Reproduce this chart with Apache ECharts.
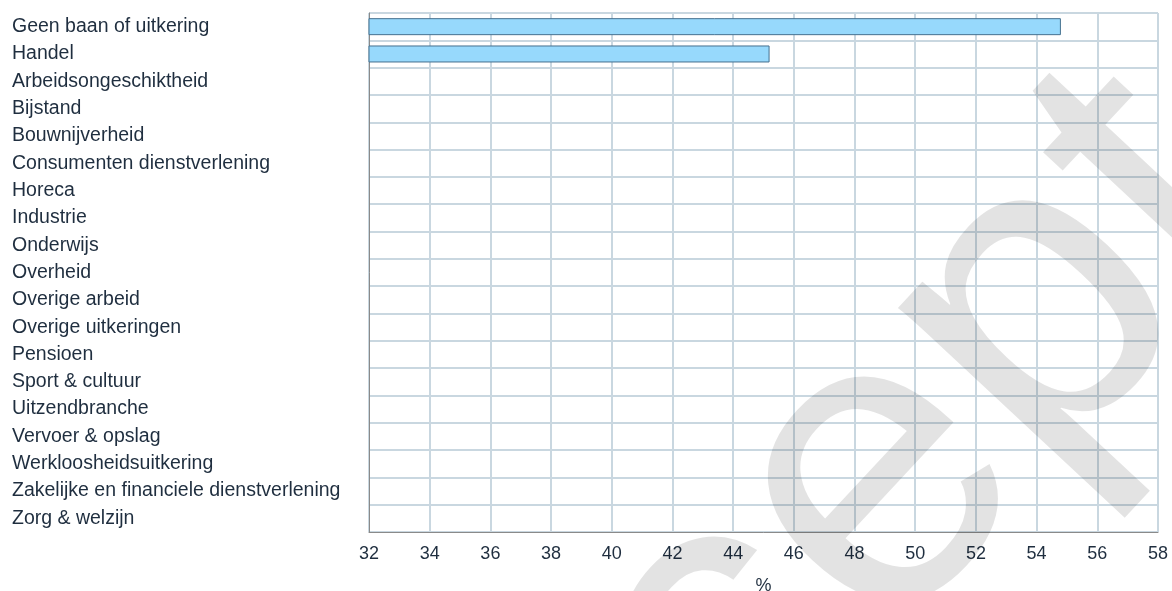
<!DOCTYPE html>
<html>
<head>
<meta charset="utf-8">
<script src="https://cdn.jsdelivr.net/npm/echarts@6/dist/echarts.min.js"></script>
<style>
  html, body { margin: 0; padding: 0; background: #ffffff; }
  #chart { width: 1172px; height: 591px; }
</style>
</head>
<body>
<div id="chart"></div>
<script>
// ---- data ----
const categories = [
  'Geen baan of uitkering',
  'Handel',
  'Arbeidsongeschiktheid',
  'Bijstand',
  'Bouwnijverheid',
  'Consumenten dienstverlening',
  'Horeca',
  'Industrie',
  'Onderwijs',
  'Overheid',
  'Overige arbeid',
  'Overige uitkeringen',
  'Pensioen',
  'Sport & cultuur',
  'Uitzendbranche',
  'Vervoer & opslag',
  'Werkloosheidsuitkering',
  'Zakelijke en financiele dienstverlening',
  'Zorg & welzijn'
];
const values = [54.8, 45.2, null, null, null, null, null, null, null, null, null, null, null, null, null, null, null, null, null];
const axisMin = 32;
const axisMax = 58;
const axisStep = 2;
const axisName = '%';
const watermarkText = 'Concept';

// ---- chart ----
const textColor = '#1f2e3f';
const gridColor = '#c9d7e0';
const fontFamily = '"Liberation Sans", Arial, sans-serif';

const chart = echarts.init(document.getElementById('chart'), null, { renderer: 'canvas' });
chart.setOption({
  animation: false,
  backgroundColor: '#ffffff',
  grid: {
    left: 369, right: 14, top: 13, bottom: 59,
    containLabel: false,
    outerBoundsMode: 'none',
    show: true, borderColor: '#a8a8a8', borderWidth: 1, backgroundColor: 'transparent'
  },
  xAxis: {
    type: 'value',
    min: axisMin, max: axisMax, interval: axisStep,
    name: axisName,
    nameLocation: 'middle',
    nameGap: 45,
    nameTextStyle: { color: textColor, fontSize: 18, fontFamily: fontFamily },
    axisLine: { show: true, lineStyle: { color: '#8a8a8a', width: 1 } },
    axisTick: { show: false },
    axisLabel: { color: textColor, fontSize: 18, fontFamily: fontFamily, margin: 13 },
    splitLine: { show: true, lineStyle: { color: gridColor, width: 2 } }
  },
  yAxis: {
    type: 'category',
    data: categories,
    inverse: true,
    axisLine: { show: true, lineStyle: { color: '#8a8a8a', width: 1 } },
    axisTick: { show: false },
    axisLabel: {
      interval: 0, align: 'left', margin: 357,
      color: textColor, fontSize: 19.5, fontFamily: fontFamily
    },
    splitLine: { show: true, interval: 0, lineStyle: { color: gridColor, width: 2 } }
  },
  series: [{
    type: 'bar',
    data: values,
    barWidth: 17,
    itemStyle: { color: '#97d9fc', borderColor: '#45708f', borderWidth: 1 },
    z: 3
  }],
  graphic: [{
    type: 'text',
    x: 129, y: 1288,
    rotation: 47 * Math.PI / 180,
    z: 100,
    silent: true,
    style: {
      text: watermarkText,
      fontSize: 420,
      fontFamily: fontFamily,
      fill: 'rgba(0,0,0,0.11)',
      align: 'left',
      verticalAlign: 'middle'
    }
  }]
});
</script>
</body>
</html>
